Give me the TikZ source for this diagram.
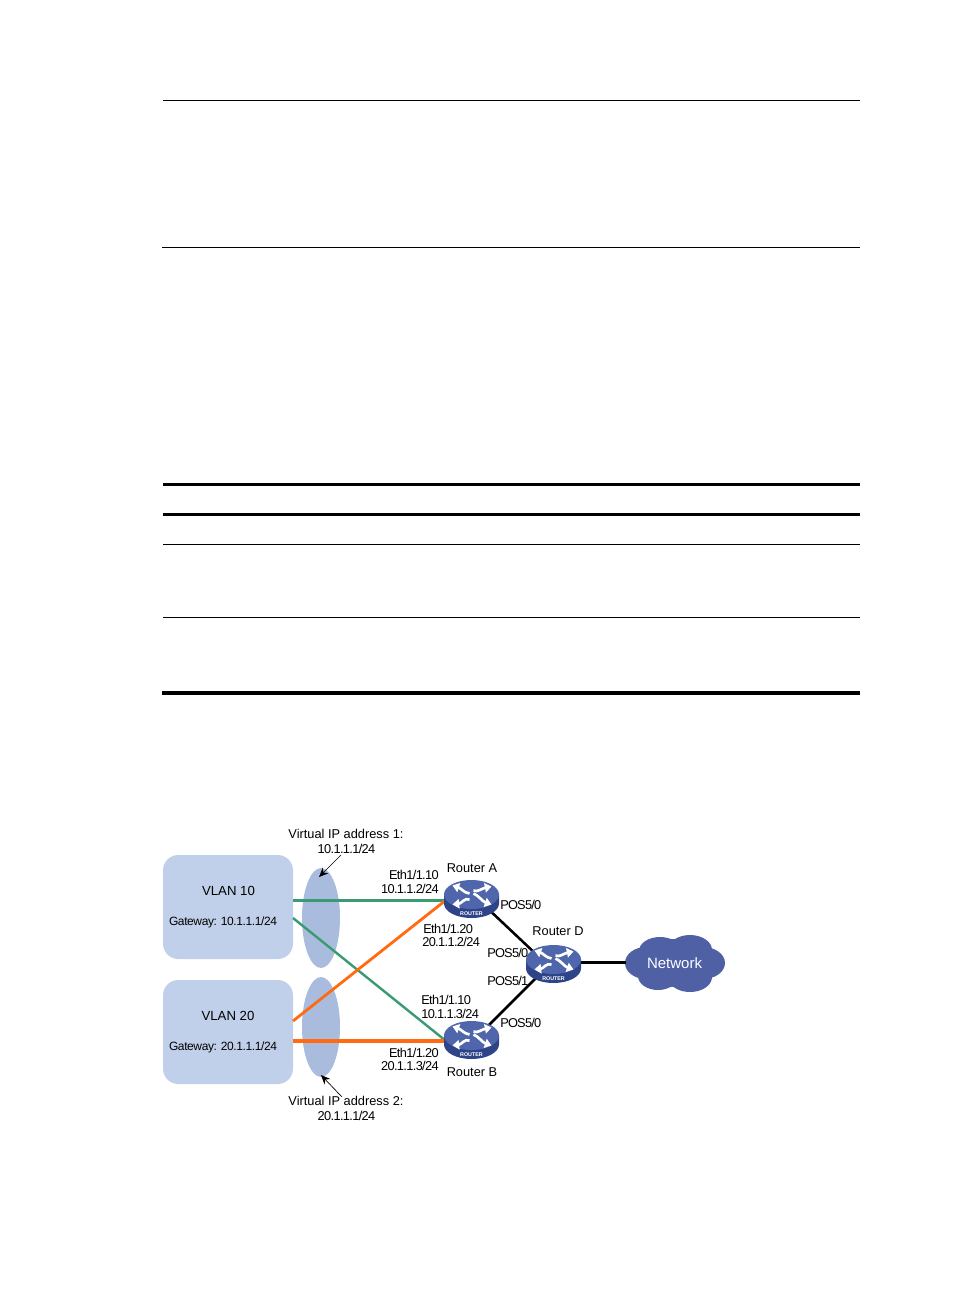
\documentclass[tikz,border=0pt]{standalone}
\usepackage{fontspec}
\setmainfont{Liberation Sans}
\newfontfamily\tightA[LetterSpace=-5]{Liberation Sans}
\newfontfamily\tightB[LetterSpace=-3.3]{Liberation Sans}
\newfontfamily\tightC[LetterSpace=-6]{Liberation Sans}
\usetikzlibrary{arrows.meta,shapes.geometric}
\definecolor{boxblue}{HTML}{C1D0EA}
\definecolor{ovalblue}{HTML}{A9BCDE}
\definecolor{linkgreen}{HTML}{3A9A72}
\definecolor{linkorange}{HTML}{FF6A13}
\definecolor{routertop}{HTML}{4F65AC}
\definecolor{routerside}{HTML}{2F4488}
\definecolor{cloudblue}{HTML}{4F60A5}
\tikzset{
  x=0.75pt,y=-0.75pt,
  vlanbox/.style={draw=none,fill=boxblue,rounded corners=11.5pt,minimum width=97.5pt,minimum height=78pt,inner sep=0pt},
  oval/.style={ellipse,draw=none,fill=ovalblue,minimum width=28.5pt,minimum height=75pt,inner sep=0pt},
  lbl/.style={inner sep=0pt,font=\fontsize{9.6}{11}\selectfont},
  numlbl/.style={inner sep=0pt,font=\tightA\fontsize{9.6}{11}\selectfont},
  poslbl/.style={inner sep=0pt,font=\tightC\fontsize{9.6}{11}\selectfont},
  gw/.style={inner sep=0pt,font=\tightB\fontsize{9}{11}\selectfont},
  vlanlbl/.style={inner sep=0pt,font=\fontsize{9.9}{12}\selectfont},
  rulethin/.style={line width=0.75pt,black},
  rulethick/.style={line width=2.25pt,black},
  rulefat/.style={line width=3pt,black},
  greenlink/.style={linkgreen,line width=1.8pt},
  orangelink/.style={linkorange,line width=2.1pt},
  orangeflat/.style={linkorange,line width=2.6pt},
  blacklink/.style={black,line width=1.9pt},
  callout/.style={black,line width=0.5pt,-{Stealth[length=7pt,width=6pt]}},
  routerspot/.style={ellipse,minimum width=41pt,minimum height=29pt,inner sep=0pt},
  arrowwhite/.style={white,line width=2pt,-{Triangle[length=5pt,width=7pt]}},
  pics/routericon/.style={code={
    \fill[routerside] (-27.5,0) -- (-27.5,9) arc[start angle=180,end angle=0,x radius=27.5,y radius=14.5] -- (27.5,0) -- cycle;
    \fill[routertop] (0,0) ellipse[x radius=27.5,y radius=14.5];
    \draw[arrowwhite] (-2,-1) .. controls (-8,-2) and (-10,-6) .. (-19,-9);
    \draw[arrowwhite] (2,-4) .. controls (6,-2) and (10,-6) .. (20,-8);
    \draw[arrowwhite] (-2,5) .. controls (-7,3) and (-10,9) .. (-19,10);
    \draw[arrowwhite] (2,-1) .. controls (7,1) and (11,7) .. (20,10);
    \node[white,inner sep=0pt,font=\bfseries\fontsize{4}{4}\selectfont] at (0,19) {ROUTER};
  }}
}
\begin{document}
\begin{tikzpicture}
\useasboundingbox (0,0) rectangle (954,1294);
\fill[white] (0,0) rectangle (954,1294);
% page rules
\coordinate (r1a) at (163,100.5); \coordinate (r1b) at (860,100.5);
\coordinate (r2a) at (162,247.5); \coordinate (r2b) at (860,247.5);
\coordinate (r3a) at (163,484); \coordinate (r3b) at (860,484);
\coordinate (r4a) at (163,514); \coordinate (r4b) at (860,514);
\coordinate (r5a) at (163,544.5); \coordinate (r5b) at (860,544.5);
\coordinate (r6a) at (163,617.5); \coordinate (r6b) at (860,617.5);
\coordinate (r7a) at (162,692.5); \coordinate (r7b) at (860,692.5);
\draw[rulethin] (r1a) -- (r1b);
\draw[rulethin] (r2a) -- (r2b);
\draw[rulethick] (r3a) -- (r3b);
\draw[rulethick] (r4a) -- (r4b);
\draw[rulethin] (r5a) -- (r5b);
\draw[rulethin] (r6a) -- (r6b);
\draw[rulefat] (r7a) -- (r7b);
% VLAN boxes and virtual address ovals
\node[vlanbox] (v10) at (228,907) {};
\node[vlanbox] (v20) at (228,1032) {};
\node[oval] (ov1) at (321,918) {};
\node[oval] (ov2) at (321,1027) {};
\node[vlanlbl] (v10t) at (228.5,891) {VLAN 10};
\node[vlanlbl] (v20t) at (228,1016) {VLAN 20};
\node[gw] (v10g) at (223,922.5) {Gateway: 10.1.1.1/24};
\node[gw] (v20g) at (223,1047.5) {Gateway: 20.1.1.1/24};
% router anchors
\node[routerspot] (ra) at (472,895) {};
\node[routerspot] (rb) at (472,1036) {};
\node[routerspot] (rd) at (553.5,960) {};
% cloud
\fill[cloudblue] (646,963) ellipse[x radius=21,y radius=16];
\fill[cloudblue] (703,963) ellipse[x radius=22,y radius=16];
\fill[cloudblue] (660,951) ellipse[x radius=21,y radius=14];
\fill[cloudblue] (690,950) ellipse[x radius=22,y radius=15];
\fill[cloudblue] (658,976) ellipse[x radius=20,y radius=14];
\fill[cloudblue] (690,977) ellipse[x radius=22,y radius=15];
\fill[cloudblue] (675,963) ellipse[x radius=35,y radius=24];
\node[inner sep=0pt,white,font=\fontsize{11.25}{13}\selectfont] (net) at (674.5,963) {Network};
\coordinate (netw) at (626,962.5);
% link ends
\coordinate (g1a) at (293,900.5); \coordinate (g1b) at (446,900.5);
\coordinate (g2a) at (293,918); \coordinate (g2b) at (446,1041);
\coordinate (o1a) at (293,1021); \coordinate (o1b) at (446,900);
\coordinate (o2a) at (293,1041); \coordinate (o2b) at (446,1041);
\coordinate (ka) at (485,906); \coordinate (kda) at (538,956);
\coordinate (kb) at (485,1029); \coordinate (kdb) at (540,974);
\coordinate (kde) at (575,962.5);
\draw[greenlink] (g1a) -- (g1b);
\draw[greenlink] (g2a) -- (g2b);
\draw[orangelink] (o1a) -- (o1b);
\draw[orangeflat] (o2a) -- (o2b);
\draw[blacklink] (ka) -- (kda);
\draw[blacklink] (kb) -- (kdb);
\draw[blacklink] (kde) -- (netw);
% routers
\pic at (471.5,894.5) {routericon};
\pic at (471.5,1035.5) {routericon};
\pic at (553.5,959.5) {routericon};
% callouts
\coordinate (c1a) at (341,855); \coordinate (c1b) at (319,877);
\coordinate (c2a) at (342,1097); \coordinate (c2b) at (321,1075);
\draw[callout] (c1a) -- (c1b);
\draw[callout] (c2a) -- (c2b);
% labels
\node[lbl] (t1) at (346,834) {Virtual IP address 1:};
\node[numlbl] (t2) at (346.5,849) {10.1.1.1/24};
\node[lbl] (t3) at (346,1101) {Virtual IP address 2:};
\node[numlbl] (t4) at (346.5,1116) {20.1.1.1/24};
\node[numlbl,anchor=east] (t5) at (439,875) {Eth1/1.10};
\node[numlbl,anchor=east] (t6) at (439,889) {10.1.1.2/24};
\node[lbl] (t7) at (472,868) {Router A};
\node[poslbl,anchor=west] (t8) at (500,905) {POS5/0};
\node[lbl] (t9) at (558,931) {Router D};
\node[poslbl,anchor=west] (t10) at (487,952.5) {POS5/0};
\node[poslbl,anchor=west] (t11) at (487,980.5) {POS5/1};
\node[numlbl,anchor=west] (t12) at (423,929) {Eth1/1.20};
\node[numlbl,anchor=west] (t13) at (422,942) {20.1.1.2/24};
\node[numlbl,anchor=west] (t14) at (421,1000) {Eth1/1.10};
\node[numlbl,anchor=west] (t15) at (421,1014) {10.1.1.3/24};
\node[poslbl,anchor=west] (t16) at (500,1023) {POS5/0};
\node[numlbl,anchor=east] (t17) at (439,1053) {Eth1/1.20};
\node[numlbl,anchor=east] (t18) at (439,1066) {20.1.1.3/24};
\node[lbl] (t19) at (472,1072) {Router B};
\end{tikzpicture}
\end{document}
